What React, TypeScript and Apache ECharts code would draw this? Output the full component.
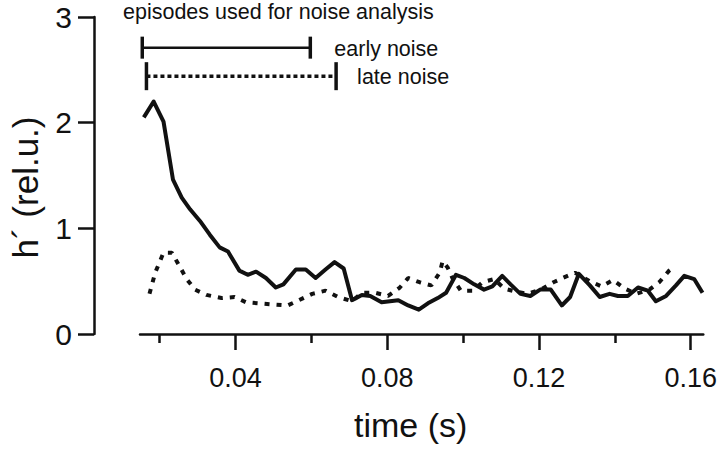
import React, { useEffect, useRef } from "react";
import * as echarts from "echarts";

// early-noise curve (solid)
const earlyT = [0.0158, 0.0184, 0.0210, 0.0235, 0.0258, 0.0280, 0.0306, 0.0332, 0.0358, 0.0380, 0.0410, 0.0432, 0.0454, 0.0480, 0.0506, 0.0526, 0.0559, 0.0585, 0.0611, 0.0637, 0.0661, 0.0685, 0.0707, 0.0733, 0.0755, 0.0785, 0.0829, 0.0855, 0.0883, 0.0907, 0.0933, 0.0955, 0.0981, 0.1003, 0.1029, 0.1055, 0.1077, 0.1103, 0.1125, 0.1151, 0.1177, 0.1203, 0.1231, 0.1260, 0.1282, 0.1305, 0.1334, 0.1360, 0.1386, 0.1408, 0.1434, 0.1461, 0.1487, 0.1508, 0.1535, 0.1561, 0.1583, 0.1609, 0.1631];
const earlyH = [2.05, 2.20, 2.01, 1.46, 1.29, 1.18, 1.07, 0.94, 0.82, 0.78, 0.60, 0.56, 0.59, 0.53, 0.44, 0.47, 0.61, 0.61, 0.53, 0.61, 0.68, 0.62, 0.32, 0.37, 0.36, 0.30, 0.32, 0.27, 0.23, 0.29, 0.34, 0.39, 0.56, 0.53, 0.47, 0.42, 0.45, 0.55, 0.47, 0.38, 0.36, 0.42, 0.42, 0.27, 0.35, 0.57, 0.46, 0.35, 0.38, 0.36, 0.36, 0.44, 0.41, 0.31, 0.36, 0.46, 0.55, 0.52, 0.39];

// late-noise curve (dotted)
const lateT = [0.0173, 0.0188, 0.0210, 0.0232, 0.0254, 0.0271, 0.0293, 0.0323, 0.0363, 0.0397, 0.0428, 0.0463, 0.0498, 0.0537, 0.0567, 0.0602, 0.0637, 0.0670, 0.0707, 0.0733, 0.0768, 0.0802, 0.0833, 0.0855, 0.0885, 0.0916, 0.0938, 0.0946, 0.0959, 0.0973, 0.0994, 0.1025, 0.1051, 0.1082, 0.1108, 0.1140, 0.1170, 0.1205, 0.1238, 0.1269, 0.1295, 0.1334, 0.1365, 0.1395, 0.1426, 0.1456, 0.1491, 0.1517, 0.1543, 0.1555];
const lateH = [0.38, 0.58, 0.77, 0.77, 0.63, 0.52, 0.42, 0.37, 0.34, 0.35, 0.30, 0.29, 0.28, 0.27, 0.32, 0.38, 0.41, 0.35, 0.31, 0.39, 0.39, 0.36, 0.44, 0.53, 0.49, 0.46, 0.58, 0.69, 0.63, 0.52, 0.41, 0.41, 0.49, 0.52, 0.43, 0.40, 0.38, 0.42, 0.49, 0.54, 0.58, 0.50, 0.45, 0.51, 0.43, 0.38, 0.42, 0.49, 0.60, 0.63];

// analysis windows
const windowLabels = ["early noise", "late noise"];
const windowStarts = [0.0154, 0.0165];
const windowEnds = [0.0597, 0.0665];
const windowLevels = [2.71, 2.44];
const windowTitle = "episodes used for noise analysis";

const majorTicks = [0.04, 0.08, 0.12, 0.16];
const minorTicks = [0.02, 0.06, 0.1, 0.14];

const FONT = "'Liberation Sans', Arial, Helvetica, sans-serif";
const INK = "#111";

export default function App() {
  const ref = useRef<HTMLDivElement>(null);
  useEffect(() => {
    if (!ref.current) return;
    const chart = echarts.init(ref.current, null, { renderer: "svg" });
    const winData = windowStarts.map((s, i) => [s, windowEnds[i], windowLevels[i], i]);
    chart.setOption({
      animation: false,
      backgroundColor: "#fff",
      grid: { left: 139, right: 13, top: 17, bottom: 116 },
      graphic: [
        {
          type: "text",
          left: 123,
          top: 1,
          style: { text: windowTitle, font: `21.5px ${FONT}`, fill: INK },
        },
      ],
      xAxis: [
        {
          type: "value",
          min: 0.0148,
          max: 0.1633,
          position: "bottom",
          name: "time (s)",
          nameLocation: "middle",
          nameGap: 74,
          nameTextStyle: { fontSize: 34, fontFamily: FONT, color: INK, padding: [0, 22, 0, 0] },
          axisLine: { show: true, lineStyle: { color: INK, width: 2.5 } },
          axisTick: { show: true, customValues: majorTicks, length: 16, lineStyle: { color: INK, width: 2.5 } },
          axisLabel: {
            customValues: majorTicks,
            formatter: (v: number) => v.toFixed(2),
            fontSize: 27,
            fontFamily: FONT,
            color: INK,
            margin: 30,
          },
          splitLine: { show: false },
        },
        {
          type: "value",
          min: 0.0148,
          max: 0.1633,
          position: "bottom",
          axisLine: { show: false },
          axisTick: { show: true, customValues: minorTicks, length: 9, lineStyle: { color: INK, width: 2.5 } },
          axisLabel: { show: false },
          splitLine: { show: false },
        },
      ],
      yAxis: {
        type: "value",
        min: 0,
        max: 3,
        interval: 1,
        offset: 46,
        name: "h´ (rel.u.)",
        nameLocation: "middle",
        nameGap: 51,
        nameTextStyle: { fontSize: 35, fontFamily: FONT, color: INK, padding: [0, 24, 0, 0] },
        axisLine: { show: true, lineStyle: { color: INK, width: 2.5 } },
        axisTick: { show: true, length: 16, lineStyle: { color: INK, width: 2.5 } },
        axisLabel: { fontSize: 30, fontFamily: FONT, color: INK, margin: 22 },
        splitLine: { show: false },
      },
      series: [
        {
          type: "line",
          name: "early noise",
          data: earlyT.map((t, i) => [t, earlyH[i]]),
          symbol: "none",
          lineStyle: { color: INK, width: 4, join: "round" },
        },
        {
          type: "line",
          name: "late noise",
          data: lateT.map((t, i) => [t, lateH[i]]),
          symbol: "none",
          lineStyle: { color: INK, width: 4, type: [5, 7], cap: "butt" },
        },
        {
          type: "custom",
          encode: { x: [0, 1], y: 2 },
          data: winData,
          renderItem: (params: any, api: any) => {
            const idx = params.dataIndex;
            const p0 = api.coord([api.value(0), api.value(2)]);
            const p1 = api.coord([api.value(1), api.value(2)]);
            const dashed = idx === 1;
            const half = dashed ? 14 : 11;
            const capStyle = { stroke: INK, lineWidth: 3.5 };
            return {
              type: "group",
              children: [
                {
                  type: "line",
                  shape: { x1: p0[0], y1: p0[1], x2: p1[0], y2: p1[1] },
                  style: { stroke: INK, lineWidth: dashed ? 3.5 : 2.5, lineDash: dashed ? [4, 3] : null },
                },
                { type: "line", shape: { x1: p0[0], y1: p0[1] - half, x2: p0[0], y2: p0[1] + half }, style: capStyle },
                { type: "line", shape: { x1: p1[0], y1: p1[1] - half, x2: p1[0], y2: p1[1] + half }, style: capStyle },
                {
                  type: "text",
                  x: p1[0] + (dashed ? 21 : 24),
                  y: p1[1] + 1,
                  style: { text: windowLabels[idx], font: `21.5px ${FONT}`, fill: INK, verticalAlign: "middle", align: "left" },
                },
              ],
            };
          },
        },
      ],
    });
    return () => chart.dispose();
  }, []);
  return <div ref={ref} style={{ position: "fixed", left: 0, top: 0, width: 720, height: 450, background: "#fff" }} />;
}
